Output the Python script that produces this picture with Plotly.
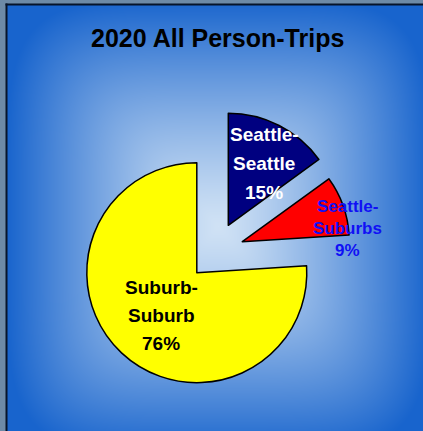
import base64
import struct
import zlib

import numpy as np
import plotly.graph_objects as go

# ---- data -------------------------------------------------------------
title_text = "2020 All Person-Trips"
categories = ["Seattle-Seattle", "Seattle-Suburbs", "Suburb-Suburb"]
shares = [15, 9, 76]  # percent of all person-trips

# ---- styling ----------------------------------------------------------
W, H = 423, 431
slice_colors = ["#000080", "#FF0000", "#FFFF00"]
label_colors = ["#FFFFFF", "#1010F5", "#000000"]
label_sizes = [19, 17, 19]
FONT = "Liberation Sans, Arial, sans-serif"

# pixel placement of each (exploded) slice: apex of the wedge and radius
slice_apex = [(228.3, 225.3), (242.3, 241.7), (196.8, 272.7)]
slice_radius = [112, 107, 110]
# label anchors: centre x, first-line centre y, line step (pixels)
label_anchor = [(264, 135, 28.5), (347, 206, 22.5), (161, 287, 28.3)]

PANEL_X0, PANEL_Y0 = 7, 5  # top-left corner of the blue panel


def px_x(x):
    return x / W


def px_y(y):
    return 1 - y / H


def wedge_domain(cx, cy, r):
    return dict(x=[px_x(cx - r), px_x(cx + r)], y=[px_y(cy + r), px_y(cy - r)])


def png_data_uri(rgb):
    h, w, _ = rgb.shape
    raw = b"".join(b"\x00" + rgb[i].tobytes() for i in range(h))

    def chunk(tag, data):
        return (struct.pack(">I", len(data)) + tag + data
                + struct.pack(">I", zlib.crc32(tag + data) & 0xFFFFFFFF))

    png = (b"\x89PNG\r\n\x1a\n"
           + chunk(b"IHDR", struct.pack(">IIBBBBB", w, h, 8, 2, 0, 0, 0))
           + chunk(b"IDAT", zlib.compress(raw, 9))
           + chunk(b"IEND", b""))
    return "data:image/png;base64," + base64.b64encode(png).decode()


# softened rectangular "from centre" gradient for the panel background
pw, ph = W - PANEL_X0, H - PANEL_Y0
yy, xx = np.mgrid[0:ph, 0:pw].astype(float)
gx, gy = 218 - PANEL_X0, 226 - PANEL_Y0
u = np.abs(xx - gx) / (pw / 2 + 4)
v = np.abs(yy - gy) / 228
t = (u ** 5 + v ** 5) ** (1 / 5)
t = np.clip(t, 0, 1) ** 1.25
inner = np.array([208, 226, 245], float)
outer = np.array([24, 100, 205], float)
grad = inner[None, None, :] + (outer - inner)[None, None, :] * t[..., None]
panel_uri = png_data_uri(np.clip(grad, 0, 255).astype(np.uint8))

fig = go.Figure()

# one pie per wedge so each exploded slice keeps its own apex
for i, (apex, r, name) in enumerate(zip(slice_apex, slice_radius, categories)):
    colors = [c if j == i else "rgba(0,0,0,0)" for j, c in enumerate(slice_colors)]
    widths = [1.5 if j == i else 0 for j in range(len(shares))]
    fig.add_trace(go.Pie(
        labels=categories,
        values=shares,
        sort=False,
        direction="clockwise",
        rotation=0,
        marker=dict(colors=colors, line=dict(color="#000000", width=widths)),
        textinfo="none",
        hoverinfo="skip",
        showlegend=False,
        domain=wedge_domain(apex[0], apex[1], r),
        name=name,
    ))

annotations = [dict(
    text=f"<b>{title_text}</b>", x=px_x(217.5), y=px_y(38),
    xref="paper", yref="paper", xanchor="center", yanchor="middle",
    showarrow=False, font=dict(family=FONT, size=25, color="#000000"),
)]

for name, share, color, size, (ax, ay, step) in zip(
        categories, shares, label_colors, label_sizes, label_anchor):
    head, tail = name.split("-", 1)
    for k, line in enumerate([head + "-", tail, f"{share}%"]):
        annotations.append(dict(
            text=f"<b>{line}</b>", x=px_x(ax), y=px_y(ay + k * step),
            xref="paper", yref="paper", xanchor="center", yanchor="middle",
            showarrow=False, font=dict(family=FONT, size=size, color=color),
        ))

fig.update_layout(
    width=W, height=H, autosize=False,
    margin=dict(l=0, r=0, t=0, b=0, pad=0),
    paper_bgcolor="#6d8aa6",
    plot_bgcolor="rgba(0,0,0,0)",
    images=[dict(
        source=panel_uri, xref="paper", yref="paper",
        x=px_x(PANEL_X0), y=px_y(PANEL_Y0), xanchor="left", yanchor="top",
        sizex=pw / W, sizey=ph / H, sizing="stretch", layer="below",
    )],
    shapes=[
        dict(type="line", xref="paper", yref="paper",
             x0=px_x(PANEL_X0 - 0.5), x1=px_x(PANEL_X0 - 0.5),
             y0=px_y(PANEL_Y0 - 1.5), y1=0,
             line=dict(color="#06142a", width=2)),
        dict(type="line", xref="paper", yref="paper",
             x0=px_x(PANEL_X0 - 1.5), x1=1,
             y0=px_y(PANEL_Y0 - 0.5), y1=px_y(PANEL_Y0 - 0.5),
             line=dict(color="#06142a", width=2)),
    ],
    annotations=annotations,
)

fig.write_html("out.html")
